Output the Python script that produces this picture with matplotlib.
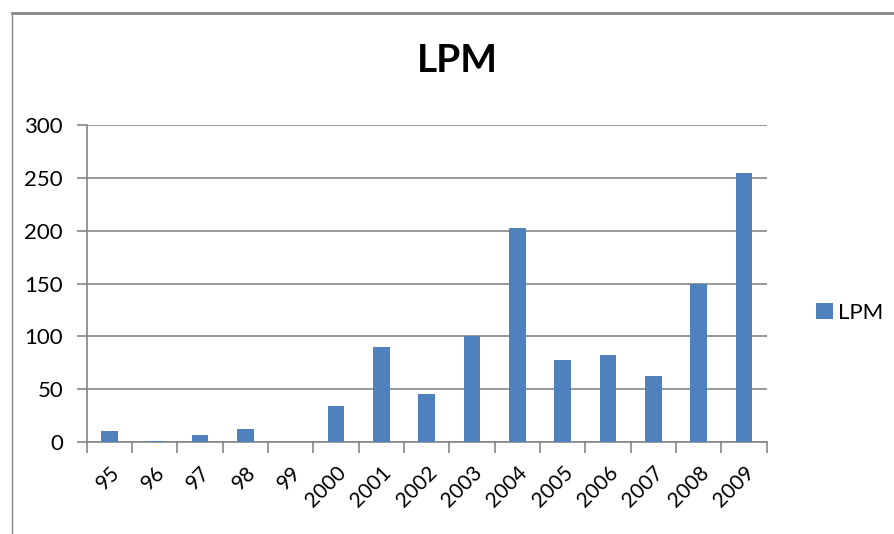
import matplotlib
matplotlib.use("Agg")
import matplotlib.pyplot as plt
from matplotlib.lines import Line2D

years = ["95", "96", "97", "98", "99", "2000", "2001", "2002", "2003",
         "2004", "2005", "2006", "2007", "2008", "2009"]
lpm = [10, 1, 7, 12, 0, 34, 90, 45, 100, 203, 78, 82, 62, 150, 255]
y_ticks = [0, 50, 100, 150, 200, 250, 300]

BAR = "#4F81BD"
GREY = "#868686"

plt.rcParams["font.family"] = ["Lato", "DejaVu Sans"]

fig = plt.figure(figsize=(8.94, 5.34), dpi=100)
ax = fig.add_axes([0.097, 0.1723, 0.7606, 0.5936])

x = range(len(years))
ax.bar(x, lpm, width=0.37, color=BAR, label="LPM", zorder=3)

ax.set_xlim(-0.5, len(years) - 0.5)
ax.set_ylim(0, 300)
ax.set_yticks(y_ticks)
ax.yaxis.grid(True, color=GREY, linewidth=1.2, zorder=0)
ax.set_axisbelow(True)

ax.set_xticks(list(x))
ax.set_xticklabels(years, rotation=45, ha="right", rotation_mode="anchor")
ax.set_xticks([i - 0.5 for i in range(len(years) + 1)], minor=True)
ax.tick_params(axis="x", which="major", length=0, pad=15, labelsize=15)
ax.tick_params(axis="x", which="minor", length=8, color=GREY, width=1.2)
ax.tick_params(axis="y", length=7, color=GREY, width=1.2, labelsize=16, pad=10)

for side in ("top", "right"):
    ax.spines[side].set_visible(False)
for side in ("left", "bottom"):
    ax.spines[side].set_color(GREY)
    ax.spines[side].set_linewidth(1.2)

fig.text(0.512, 1 - 60 / 534, "LPM", ha="center", va="center",
         fontsize=28, fontweight="bold")

fig.legend(loc="center left", bbox_to_anchor=(816 / 894, 1 - 313 / 534),
           frameon=False, fontsize=16, handlelength=0.75, handleheight=0.75,
           handletextpad=0.25, borderpad=0, borderaxespad=0)

# outer chart border (only top and left edges are visible)
fig.add_artist(Line2D([12 / 894, 1], [1 - 13 / 534] * 2, color=GREY,
                      linewidth=2, transform=fig.transFigure))
fig.add_artist(Line2D([12 / 894] * 2, [0, 1 - 13 / 534], color=GREY,
                      linewidth=1, transform=fig.transFigure))

fig.savefig("out.png", dpi=100)
